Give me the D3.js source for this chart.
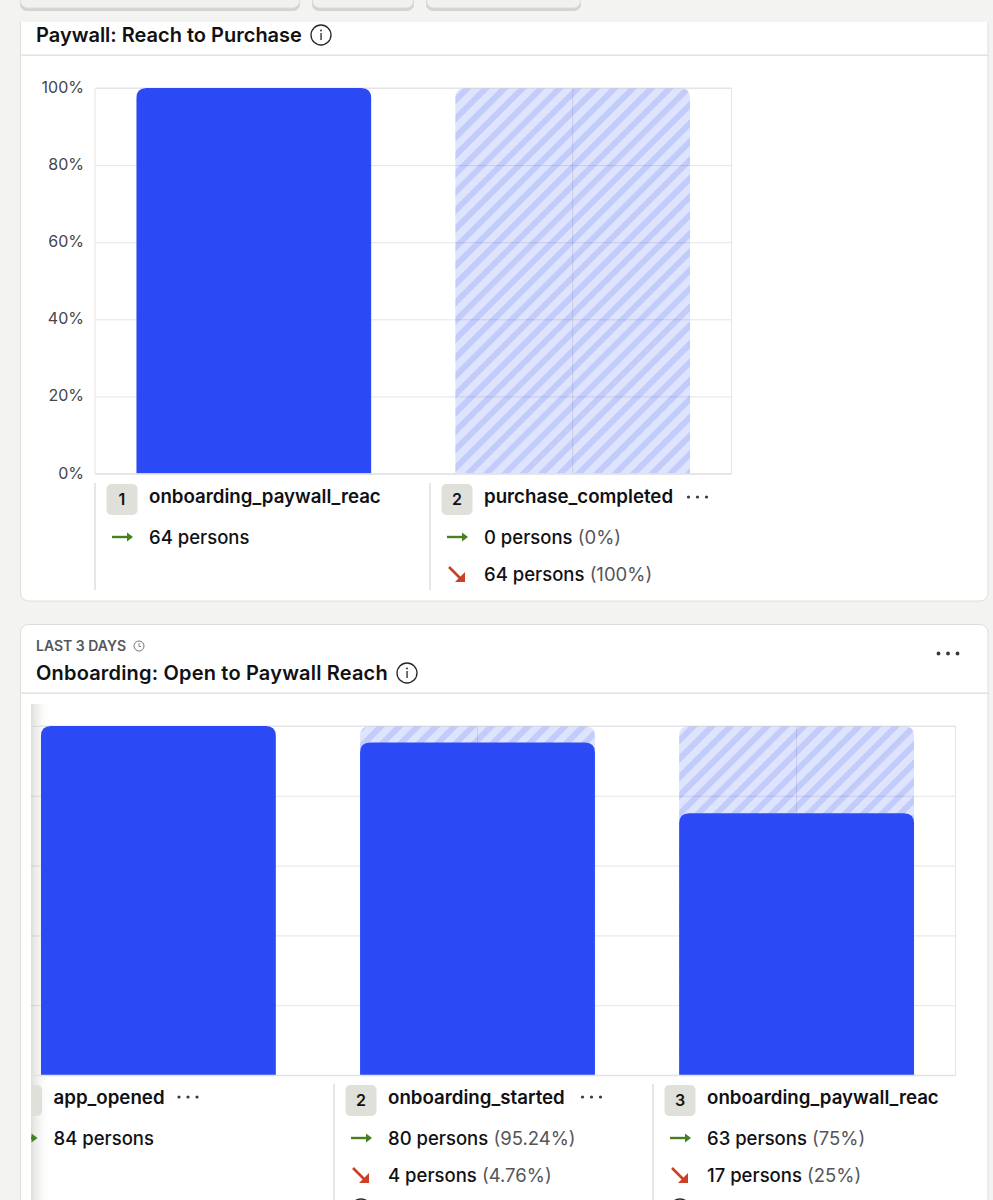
<!DOCTYPE html>
<html>
<head>
<meta charset="utf-8">
<script src="https://cdn.jsdelivr.net/npm/d3@7"></script>
<style>
html, body { margin: 0; padding: 0; background: #f3f3f1; overflow: hidden; }
svg { display: block; font-family: Inter, "Noto Sans", sans-serif; }
.grid line { stroke: rgba(30, 30, 90, 0.12); }
.grid path { display: none; }
.tick-label { font-size: 16px; fill: #45454a; }
</style>
</head>
<body>
<div class="canvas"></div>
<script>
// funnel 1
const funnel1Steps = ['onboarding_paywall_reac', 'purchase_completed'];
const funnel1Persons = [64, 0];
const funnel1Through = ['64 persons', '0 persons'];
const funnel1ThroughPct = ['', '(0%)'];
const funnel1Drop = ['', '64 persons'];
const funnel1DropPct = ['', '(100%)'];

// funnel 2
const funnel2Steps = ['app_opened', 'onboarding_started', 'onboarding_paywall_reac'];
const funnel2Persons = [84, 80, 63];
const funnel2Through = ['84 persons', '80 persons', '63 persons'];
const funnel2ThroughPct = ['', '(95.24%)', '(75%)'];
const funnel2Drop = ['', '4 persons', '17 persons'];
const funnel2DropPct = ['', '(4.76%)', '(25%)'];

const yTicks = [0, 20, 40, 60, 80, 100];

const blue = '#2b4af6';
const green = '#46811f';
const red = '#cc4125';
const ink = '#111114';
const muted = '#55555a';

const svg = d3.select('.canvas')
	.append('svg')
	.attr('width', 993)
	.attr('height', 1200);

const defs = svg.append('defs');

const hatch = defs.append('pattern')
	.attr('id', 'hatch')
	.attr('patternUnits', 'userSpaceOnUse')
	.attr('width', 13)
	.attr('height', 13)
	.attr('patternTransform', 'rotate(45)');
hatch.append('rect').attr('width', 13).attr('height', 13).attr('fill', '#dfe4fe');
hatch.append('rect').attr('width', 6).attr('height', 13).attr('fill', '#c2ccfb');

const fade = defs.append('linearGradient').attr('id', 'fade');
fade.append('stop').attr('offset', 0).attr('stop-color', '#dededc').attr('stop-opacity', 1);
fade.append('stop').attr('offset', 1).attr('stop-color', '#ffffff').attr('stop-opacity', 0);

defs.append('clipPath').attr('id', 'scroll')
	.append('rect').attr('x', 31).attr('y', 694).attr('width', 950).attr('height', 520);

// leftover toolbar buttons at the top
[[20, 280], [312, 102], [426, 155]].forEach(([x, w]) => {
	svg.append('rect')
		.attr('x', x).attr('y', -18).attr('width', w).attr('height', 29).attr('rx', 7)
		.attr('fill', '#d3d3cf');
	svg.append('rect')
		.attr('x', x + 0.5).attr('y', -20).attr('width', w - 1).attr('height', 28).attr('rx', 7)
		.attr('fill', '#f1f1ef').attr('stroke', '#dcdcd8');
});

// cards
svg.append('path')
	.attr('d', 'M20.5,22 V593 a8,8 0 0 0 8,8 H980 a8,8 0 0 0 8,-8 V22')
	.attr('fill', '#fff').attr('stroke', '#deded9');
svg.append('rect')
	.attr('x', 20.5).attr('y', 624.5).attr('width', 967.5).attr('height', 620).attr('rx', 8)
	.attr('fill', '#fff').attr('stroke', '#deded9');
svg.append('rect').attr('x', 21).attr('y', 54.5).attr('width', 967).attr('height', 1.5).attr('fill', '#e2e2df');
svg.append('rect').attr('x', 21).attr('y', 692.5).attr('width', 967).attr('height', 1.5).attr('fill', '#e2e2df');

const infoIcon = (cx, cy) => {
	const g = svg.append('g');
	g.append('circle').attr('cx', cx).attr('cy', cy).attr('r', 10)
		.attr('fill', 'none').attr('stroke', '#26262a').attr('stroke-width', 1.3);
	g.append('rect').attr('x', cx - 0.6).attr('y', cy - 2).attr('width', 1.3).attr('height', 7).attr('fill', '#26262a');
	g.append('circle').attr('cx', cx).attr('cy', cy - 4.5).attr('r', 0.9).attr('fill', '#26262a');
};

const title = (x, y, txt, spacing) => svg.append('text')
	.attr('x', x).attr('y', y)
	.attr('font-size', 20).attr('font-weight', 600).attr('fill', ink)
	.attr('letter-spacing', spacing)
	.text(txt);

title(36, 42, 'Paywall: Reach to Purchase', 0);
infoIcon(321, 35);

svg.append('text').attr('x', 36).attr('y', 651)
	.attr('font-size', 14).attr('font-weight', 600).attr('fill', muted)
	.text('LAST 3 DAYS');
svg.append('circle').attr('cx', 139).attr('cy', 646).attr('r', 5)
	.attr('fill', 'none').attr('stroke', '#66666a').attr('stroke-width', 0.9);
svg.append('path').attr('d', 'M139,643 V646.5 H141')
	.attr('fill', 'none').attr('stroke', '#66666a').attr('stroke-width', 0.8);
title(36, 680, 'Onboarding: Open to Paywall Reach', 0.18);
infoIcon(407, 673);

// card menu dots
const dots = (cx, cy, r, gap, color, parent) => {
	[-gap, 0, gap].forEach(d => {
		(parent || svg).append('circle').attr('cx', cx + d).attr('cy', cy).attr('r', r).attr('fill', color);
	});
};
dots(948, 653.5, 1.9, 9.5, '#3a3a3e');

// draws one funnel: hatched full bars, grid on top of them, solid bars last
const drawFunnel = (parent, persons, steps, box, showLabels) => {
	const x = d3.scaleBand()
		.domain(steps)
		.range([box.left, box.right])
		.paddingInner(box.inner)
		.paddingOuter(box.outer)
		.align(box.align);
	const y = d3.scaleLinear().domain([0, 100]).range([box.bottom, box.top]);
	const pct = v => v / persons[0] * 100;
	const w = box.right - box.left;
	const h = box.bottom - box.top;
	const r = 10;

	parent.selectAll('.drop')
		.data(steps.slice(1))
		.enter().append('path')
		.attr('class', 'drop')
		.attr('fill', 'url(#hatch)')
		.attr('d', d => topRounded(x(d), y(100), x.bandwidth(), h, r));

	parent.append('g')
		.attr('class', 'grid')
		.attr('transform', `translate(${box.left},0)`)
		.call(d3.axisLeft(y).tickValues(yTicks).tickSize(-w).tickFormat(''));
	parent.append('g')
		.attr('class', 'grid')
		.attr('transform', `translate(0,${box.bottom})`)
		.call(d3.axisBottom(x).tickSize(-h).tickFormat(''));

	// plot frame
	parent.append('path')
		.attr('d', `M${box.left},${box.bottom} V${box.top} H${box.right} V${box.bottom}`)
		.attr('fill', 'none').attr('stroke', '#e4e4e4');

	parent.selectAll('.bar')
		.data(steps.map((s, i) => ({ step: s, v: persons[i] })).filter(d => d.v > 0))
		.enter().append('path')
		.attr('class', 'bar')
		.attr('fill', blue)
		.attr('d', d => topRounded(x(d.step), y(pct(d.v)), x.bandwidth(), box.bottom - y(pct(d.v)), r));

	// baseline sits over the bars and is a bit heavier than the grid
	parent.append('line')
		.attr('x1', box.left).attr('x2', box.right)
		.attr('y1', box.bottom + 0.5).attr('y2', box.bottom + 0.5)
		.attr('stroke', '#e2e2e4').attr('stroke-width', 1.6);

	if (showLabels) {
		parent.selectAll('.tick-label')
			.data(yTicks)
			.enter().append('text')
			.attr('class', 'tick-label')
			.attr('x', box.left - 11)
			.attr('y', d => y(d) + 5)
			.attr('text-anchor', 'end')
			.text(d => d + '%');
	}
};

function topRounded(x0, y0, w, h, r) {
	return `M${x0},${y0 + h} V${y0 + r} Q${x0},${y0} ${x0 + r},${y0} H${x0 + w - r} Q${x0 + w},${y0} ${x0 + w},${y0 + r} V${y0 + h} Z`;
}

const arrowRight = (g, x, y) => {
	g.append('path').attr('d', `M${x},${y} H${x + 19}`).attr('stroke', green).attr('stroke-width', 2.4).attr('fill', 'none');
	g.append('path').attr('d', `M${x + 15},${y - 4.5} L${x + 21},${y} L${x + 15},${y + 4.5} Z`).attr('fill', green);
};
const arrowDown = (g, x, y) => {
	g.append('path').attr('d', `M${x},${y - 7} L${x + 13},${y + 6}`).attr('stroke', red).attr('stroke-width', 2.6).attr('fill', 'none');
	g.append('path').attr('d', `M${x + 16},${y + 8} L${x + 6},${y + 8} L${x + 16},${y - 2} Z`).attr('fill', red);
};

// the step columns under each funnel
const drawLegend = (parent, cols, names, through, throughPct, drop, dropPct, ys) => {
	names.forEach((name, i) => {
		const c = cols[i];
		const g = parent.append('g');
		g.append('rect').attr('x', c - 0.7).attr('y', ys.top).attr('width', 1.4).attr('height', ys.sep).attr('fill', '#dcdcd6');
		g.append('rect').attr('x', c + 11.5).attr('y', ys.top + 1).attr('width', 31).attr('height', 31).attr('rx', 5).attr('fill', '#dfe0da');
		g.append('text').attr('x', c + 27).attr('y', ys.top + 22).attr('text-anchor', 'middle')
			.attr('font-size', 16).attr('font-weight', 600).attr('fill', ink).text(i + 1);
		g.append('text').attr('x', c + 54).attr('y', ys.top + 20)
			.attr('font-size', 18.7).attr('font-weight', 600).attr('fill', ink).text(name);

		const row = (yy, a, b) => {
			const t = g.append('text').attr('x', c + 54).attr('y', yy + 7).attr('font-size', 18.5).attr('font-weight', 500).attr('fill', ink);
			t.append('tspan').text(a);
			if (b) t.append('tspan').attr('fill', muted).attr('font-weight', 400).text(' ' + b);
		};
		arrowRight(g, c + 17, ys.row1);
		row(ys.row1, through[i], throughPct[i]);
		if (drop[i]) {
			arrowDown(g, c + 19, ys.row2);
			row(ys.row2, drop[i], dropPct[i]);
		}
	});
};

// first card
const card1 = svg.append('g');
drawFunnel(card1, funnel1Persons, funnel1Steps,
	{ left: 95, right: 731.5, top: 88, bottom: 473.5, inner: 0.264, outer: 0.13, align: 0.5 }, true);
drawLegend(card1, [95, 430], funnel1Steps, funnel1Through, funnel1ThroughPct, funnel1Drop, funnel1DropPct,
	{ top: 483, sep: 107, row1: 537, row2: 574 });
dots(697.5, 497, 1.6, 9, '#3a3a3e');

// second card is scrolled sideways so its axis labels are cut off
const card2 = svg.append('g').attr('clip-path', 'url(#scroll)');

// scroll shadow down the left edge, under the bars and text
card2.append('rect')
	.attr('x', 31).attr('y', 704).attr('width', 20).attr('height', 496)
	.attr('fill', 'url(#fade)');

drawFunnel(card2, funnel2Persons, funnel2Steps,
	{ left: -0.5, right: 955.5, top: 726, bottom: 1075, inner: 0.264, outer: 0.13, align: 0.5 }, false);
drawLegend(card2, [-0.5, 334, 653], funnel2Steps, funnel2Through, funnel2ThroughPct, funnel2Drop, funnel2DropPct,
	{ top: 1084, sep: 130, row1: 1138, row2: 1175 });
dots(188, 1097, 1.6, 9, '#3a3a3e', card2);
dots(591.5, 1097, 1.6, 9, '#3a3a3e', card2);
[361, 680].forEach(cx => {
	card2.append('circle').attr('cx', cx).attr('cy', 1209).attr('r', 10)
		.attr('fill', 'none').attr('stroke', '#26262a').attr('stroke-width', 1.5);
});
</script>
</body>
</html>
